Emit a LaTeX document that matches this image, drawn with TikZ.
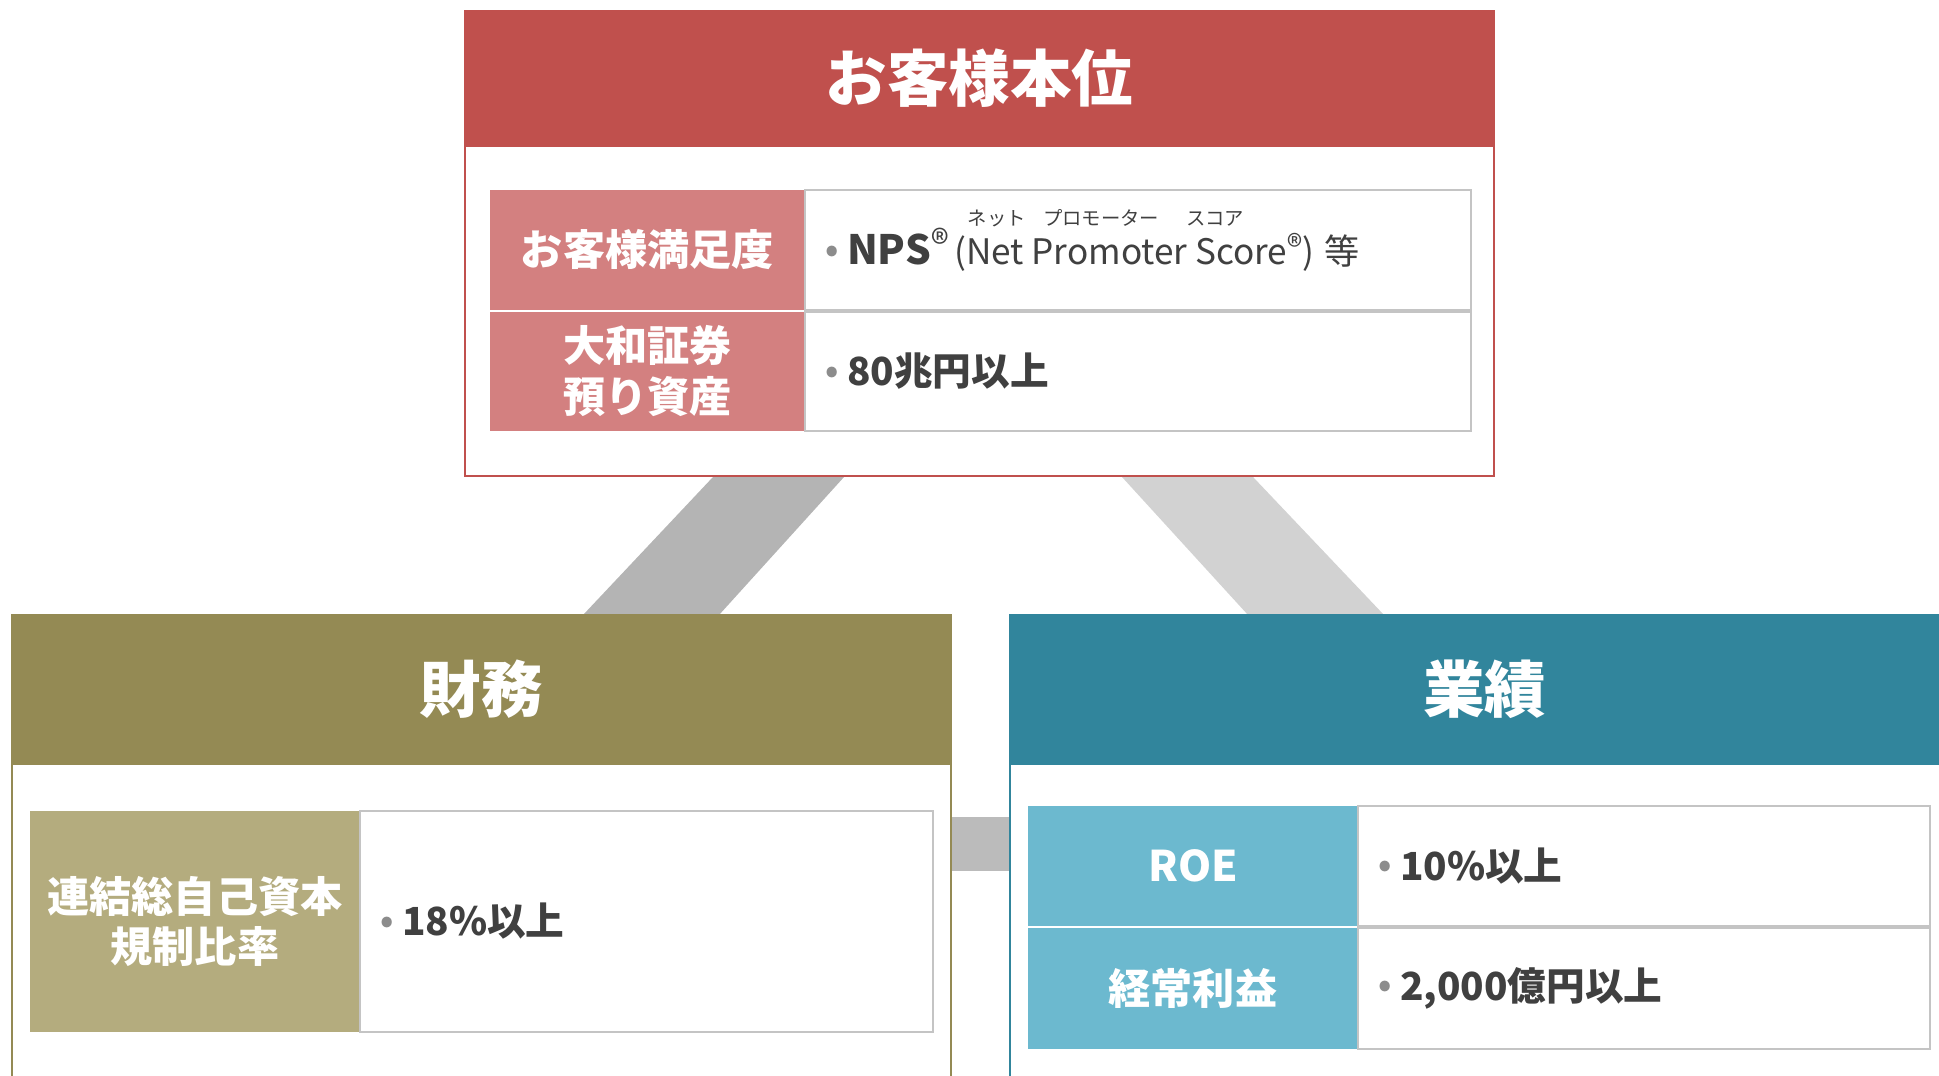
\documentclass[tikz,border=0pt]{standalone}
\usepackage{fontspec}
\setmainfont{Noto Sans CJK JP}
\usetikzlibrary{positioning}
\usetikzlibrary{calc}

\definecolor{custRed}{HTML}{C0504D}
\definecolor{custRedLight}{HTML}{D38080}
\definecolor{finOlive}{HTML}{948A54}
\definecolor{finOliveLight}{HTML}{B4AC7E}
\definecolor{perfTeal}{HTML}{31859C}
\definecolor{perfTealLight}{HTML}{6CB9CF}
\definecolor{cellGray}{HTML}{C4C4C4}
\definecolor{textGray}{HTML}{404040}
\definecolor{bulletGray}{HTML}{8C8C8C}
\definecolor{bandDark}{HTML}{B4B4B4}
\definecolor{bandLight}{HTML}{D2D2D2}

\pgfdeclarelayer{bg}
\pgfsetlayers{bg,main}

\newcommand{\gbullet}{\raisebox{0.1em}{\textcolor{bulletGray}{\fontsize{19pt}{19pt}\selectfont •}}\hspace{0.2em}}
\newcommand{\regmark}[1]{{\mdseries\fontsize{#1}{#1}\selectfont\raisebox{0.2em}{®}}}

\tikzset{%
	% Specifications for style of nodes:
	base/.style = {rectangle, inner sep=0pt, outer sep=0pt,
		text centered, font=\bfseries},
	pillar/.style = {base, fill=white, line width=1.1pt, anchor=north west,
		minimum height=9.50cm},
	header/.style = {base, anchor=north, text=white, line width=1.1pt,
		font=\fontsize{35pt}{40pt}\selectfont\bfseries},
	labcell/.style = {base, text=white, align=center, minimum width=6.60cm,
		font=\fontsize{24pt}{29pt}\selectfont\bfseries},
	valcell/.style = {base, fill=white, draw=cellGray, line width=1.1pt},
	valtext/.style = {base, anchor=west, text=textGray,
		font=\fontsize{22pt}{28pt}\selectfont\bfseries},
	ruby/.style = {base, text=textGray, font=\fontsize{11pt}{13pt}\selectfont}
}

\begin{document}
\begin{tikzpicture}[x=0.02cm, y=-0.02cm]
		\useasboundingbox (0,0) rectangle (1939,1075);
		% customer first
		\node (topBox) [pillar, draw=custRed, minimum width=20.58cm, minimum height=9.30cm] at (465,11) {};
		\node (topHead) [header, fill=custRed, draw=custRed, minimum width=20.58cm, minimum height=2.70cm] at (topBox.north) {お客様本位};
		\node (labSat) [labcell, fill=custRedLight, anchor=north west, minimum width=6.30cm, minimum height=2.40cm] at (490,190) {お客様満足度};
		\node (valSat) [valcell, right=0pt of labSat, minimum width=13.32cm, minimum height=2.40cm] {};
		\node (labAsset) [labcell, fill=custRedLight, below=0.04cm of labSat, minimum width=6.30cm, minimum height=2.38cm] {大和証券\\預り資産};
		\node (valAsset) [valcell, right=0pt of labAsset, minimum width=13.32cm, minimum height=2.38cm] {};
		\node (txtSat) [valtext, right=0.42cm of valSat.west] {\gbullet{\fontsize{23pt}{28pt}\selectfont NPS}\regmark{21pt}\hspace{0.15em}{\mdseries\fontsize{20pt}{28pt}\selectfont (Net Promoter Score\regmark{18pt})\hspace{0.3em}等}};
		\node (rubyNps) [ruby] at ([shift={(301,28)}]valSat.north west) {ネット\hspace{0.9em}プロモーター\hspace{1.4em}スコア};
		\node (txtAsset) [valtext, right=0.42cm of valAsset.west] {\gbullet 80兆円以上};
		% finance
		\node (finBox) [pillar, draw=finOlive, minimum width=18.78cm] at (12,615) {};
		\node (finHead) [header, fill=finOlive, draw=finOlive, minimum width=18.78cm, minimum height=2.98cm] at (finBox.north) {財務};
		\node (labCap) [labcell, fill=finOliveLight, anchor=north west, minimum height=4.42cm] at (30,811) {連結総自己資本\\規制比率};
		\node (valCap) [valcell, right=0pt of labCap, minimum width=11.46cm, minimum height=4.42cm] {};
		\node (txtCap) [valtext, right=0.42cm of valCap.west] {\gbullet 18\%以上};
		% results
		\node (perfBox) [pillar, draw=perfTeal, minimum width=19.00cm] at (1010,615) {};
		\node (perfHead) [header, fill=perfTeal, draw=perfTeal, minimum width=19.00cm, minimum height=2.98cm] at (perfBox.north) {業績};
		\node (labRoe) [labcell, fill=perfTealLight, anchor=north west, minimum height=2.40cm] at (1028,806) {ROE};
		\node (valRoe) [valcell, right=0pt of labRoe, minimum width=11.44cm, minimum height=2.40cm] {};
		\node (labProfit) [labcell, fill=perfTealLight, below=0.04cm of labRoe, minimum height=2.42cm] {経常利益};
		\node (valProfit) [valcell, right=0pt of labProfit, minimum width=11.44cm, minimum height=2.42cm] {};
		\node (txtRoe) [valtext, right=0.42cm of valRoe.west] {\gbullet 10\%以上};
		\node (txtProfit) [valtext, right=0.42cm of valProfit.west] {\gbullet 2,000億円以上};
		% grey bands behind the boxes
		\begin{pgfonlayer}{bg}
		\fill[bandDark] ([shift={(249,0)}]topBox.south west) -- ([shift={(380,0)}]topBox.south west) -- ([shift={(707,0)}]finBox.north west) -- ([shift={(571,0)}]finBox.north west) -- cycle;
		\fill[bandLight] ([shift={(656,0)}]topBox.south west) -- ([shift={(787,0)}]topBox.south west) -- ([shift={(374,0)}]perfBox.north west) -- ([shift={(238,0)}]perfBox.north west) -- cycle;
		\fill[bandDark!90!white] ([shift={(0,202)}]finBox.north east) rectangle ([shift={(0,256)}]perfBox.north west);
		\end{pgfonlayer}
	\end{tikzpicture}
\end{document}
